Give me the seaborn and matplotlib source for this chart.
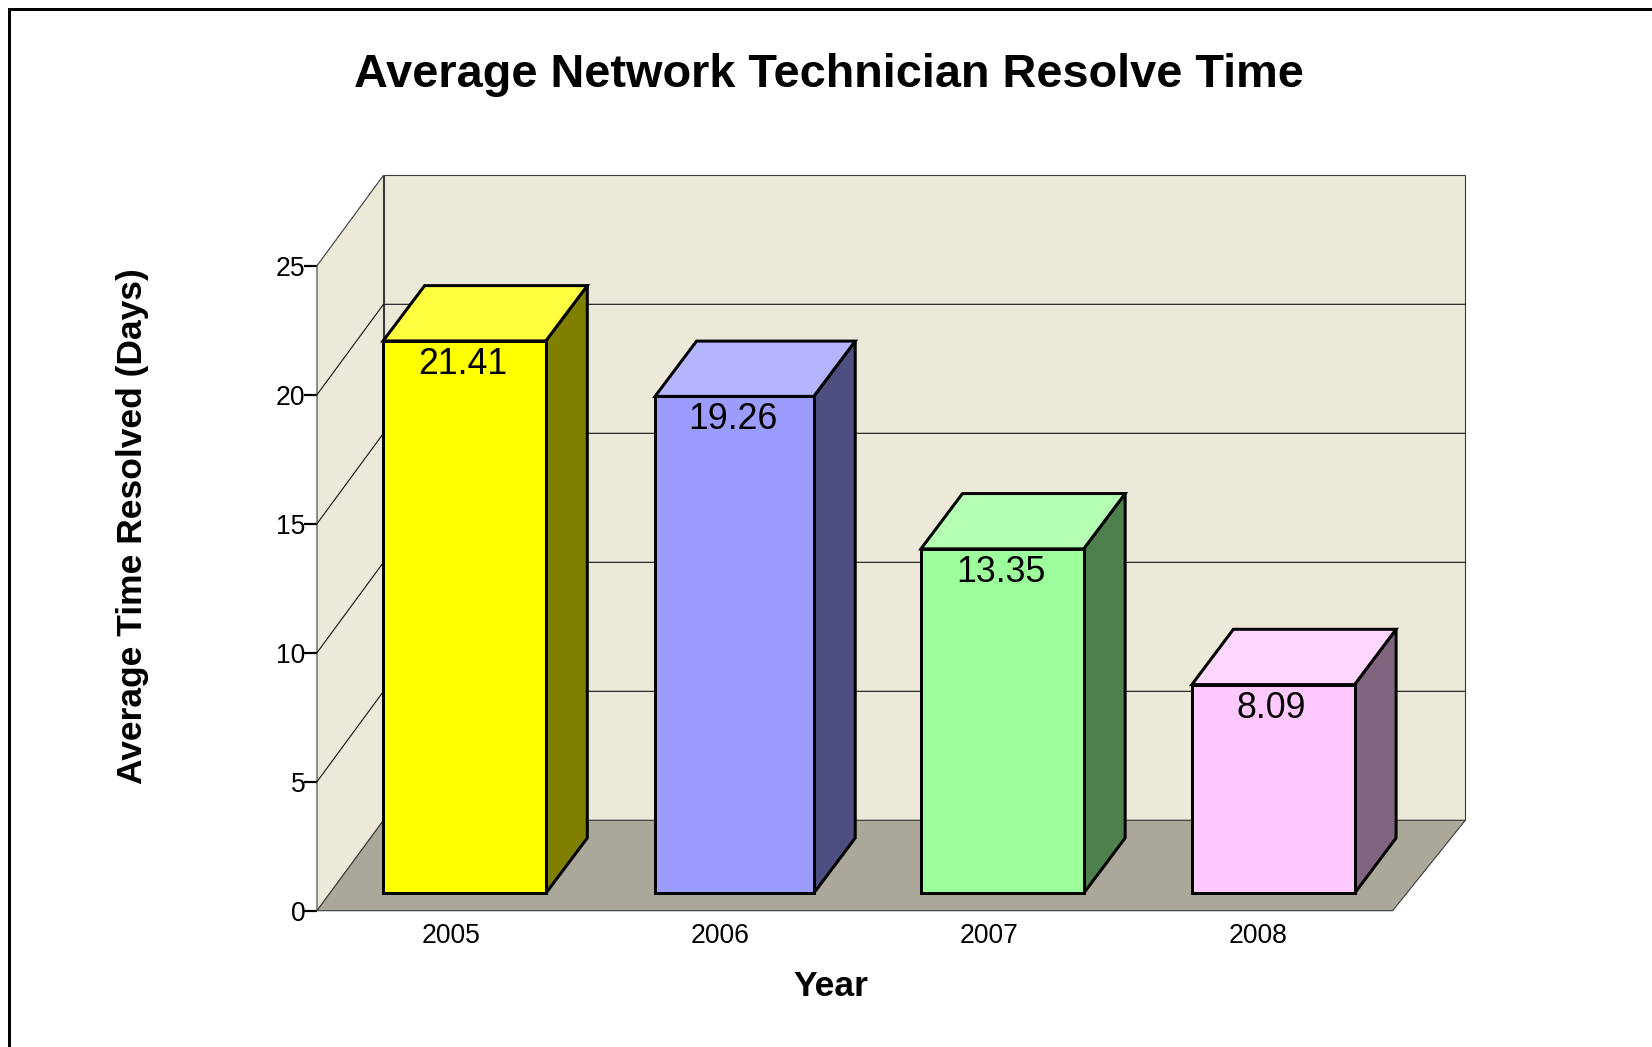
import matplotlib
matplotlib.use("Agg")
import matplotlib.pyplot as plt
from matplotlib.lines import Line2D
from matplotlib.patches import Polygon
from matplotlib.colors import to_rgb
import numpy as np
import pandas as pd
import seaborn as sns

years = ["2005", "2006", "2007", "2008"]
resolve_days = [21.41, 19.26, 13.35, 8.09]
face_colors = ["#FFFF00", "#9C9CFF", "#9CFF9C", "#FFC8FF"]
y_ticks = [0, 5, 10, 15, 20, 25]
title = "Average Network Technician Resolve Time"
x_label = "Year"
y_label = "Average Time Resolved (Days)"

W, H = 1652, 1047
PX = 72 / 100  # points per pixel at dpi 100
AX_L, AX_R, AX_T, AX_B = 317.0, 1392.7, 265.7, 910.7
ax_w, ax_h = AX_R - AX_L, AX_B - AX_T

sns.set_theme(style="white")
plt.rcParams["font.family"] = ["Liberation Sans", "DejaVu Sans"]

fig = plt.figure(figsize=(W / 100, H / 100), dpi=100, facecolor="white")
ax = fig.add_axes([AX_L / W, 1 - AX_B / H, ax_w / W, ax_h / H])
ax.set_facecolor("none")

df = pd.DataFrame({"year": years, "days": resolve_days})
sns.barplot(data=df, x="year", y="days", hue="year", palette=face_colors,
            saturation=1, width=0.605, edgecolor="black", linewidth=3 * PX,
            legend=False, ax=ax, zorder=5)
ax.set_xlim(-0.5, 3.5)
ax.set_ylim(0, 25)

# pixel sizes expressed in data units
ux = 4 / ax_w
uy = 25 / ax_h
depth_x, depth_y = 66.5 * ux, 90.4 * uy
back_right_x = 3.5 + 72.6 * ux
bar_off_x, bar_off_y = 14.0 * ux, 17.4 * uy
bar_dx, bar_dy = 41.5 * ux, 55.3 * uy
x0, x1 = -0.5, 3.5
wall_c, floor_c, edge_c = "#ECE9D8", "#ACA899", "#3A3A3A"
thin = 1.1 * PX
# small per-bar pixel corrections of the left and right edges
left_nudge = [-1, 2, -1, 1]
right_nudge = [-1, -2, -1, 1]


def poly(points, fc, ec, lw, z):
    ax.add_patch(Polygon(points, closed=True, facecolor=fc, edgecolor=ec, linewidth=lw,
                         zorder=z, clip_on=False, joinstyle="miter"))


# walls and floor
bx = x0 + depth_x
poly([(bx, depth_y), (back_right_x, depth_y), (back_right_x, 25 + depth_y), (bx, 25 + depth_y)],
     wall_c, edge_c, thin, 1)
poly([(x0, 0), (bx, depth_y), (bx, 25 + depth_y), (x0, 25)], wall_c, edge_c, thin, 1)
poly([(x0, 0), (x1, 0), (back_right_x, depth_y), (bx, depth_y)], floor_c, edge_c, thin, 2)
for v in y_ticks[1:-1]:
    ax.plot([x0, bx, back_right_x], [v, v + depth_y, v + depth_y], color="#111111",
            lw=thin, zorder=3, clip_on=False, solid_joinstyle="miter")

# bars: front faces from seaborn, side and top faces derived from them
bars = [p for p in ax.patches if p.get_zorder() == 5]
for bar, val, col, ln, rn in zip(bars, resolve_days, face_colors, left_nudge, right_nudge):
    l = bar.get_x() + bar_off_x + ln * ux
    r = bar.get_x() + bar.get_width() + bar_off_x + rn * ux
    bar.set_x(l)
    bar.set_width(r - l)
    bar.set_y(bar_off_y)
    bar.set_clip_on(False)
    bar.set_joinstyle("miter")
    t = bar_off_y + val
    rgb = np.array(to_rgb(col))
    top_c = tuple(rgb + (1 - rgb) * 0.25)
    side_c = tuple(rgb * 0.5)
    poly([(r, bar_off_y), (r + bar_dx, bar_off_y + bar_dy), (r + bar_dx, t + bar_dy), (r, t)],
         side_c, "black", 3 * PX, 4)
    poly([(l, t), (r, t), (r + bar_dx, t + bar_dy), (l + bar_dx, t + bar_dy)],
         top_c, "black", 3 * PX, 4)
    ax.annotate(f"{val:.2f}", xy=((l + r) / 2 - 1.5 * ux, t), xytext=(0, -23.5 * PX),
                textcoords="offset points", ha="center", va="center",
                fontsize=35.7 * PX, color="black", zorder=6)

# axes furniture
sns.despine(ax=ax, left=True, bottom=True, top=True, right=True)
ax.set_yticks(y_ticks)
ax.set_yticklabels([str(v) for v in y_ticks])
ax.tick_params(axis="y", left=True, length=13 * PX, width=2.2 * PX, color="black",
               pad=-1, labelsize=26.5 * PX, labelcolor="black")
ax.tick_params(axis="x", bottom=False, length=0, pad=12 * PX, labelsize=26.5 * PX, labelcolor="black")
for lab in ax.get_yticklabels():
    lab.set_verticalalignment("center_baseline")

ax.set_xlabel(x_label, fontsize=35.5 * PX, fontweight="bold", color="black", va="center")
ax.xaxis.set_label_coords((831 - AX_L) / ax_w, -(987 - AX_B) / ax_h)
ax.set_ylabel(y_label, fontsize=35.4 * PX, fontweight="bold", color="black", va="center")
ax.yaxis.set_label_coords((132.5 - AX_L) / ax_w, (AX_B - 526) / ax_h)
ax.set_title(title, fontsize=46.9 * PX, fontweight="bold", color="black", va="center",
             x=(828.5 - AX_L) / ax_w, y=(AX_B - 83) / ax_h)

# outer frame, open to the right and bottom edges of the picture
fig.add_artist(Line2D([9 / W, 9 / W, 1], [0, 1 - 8.5 / H, 1 - 8.5 / H], color="black",
                      lw=3 * PX, solid_joinstyle="miter"))

fig.savefig("out.png", dpi=100)
